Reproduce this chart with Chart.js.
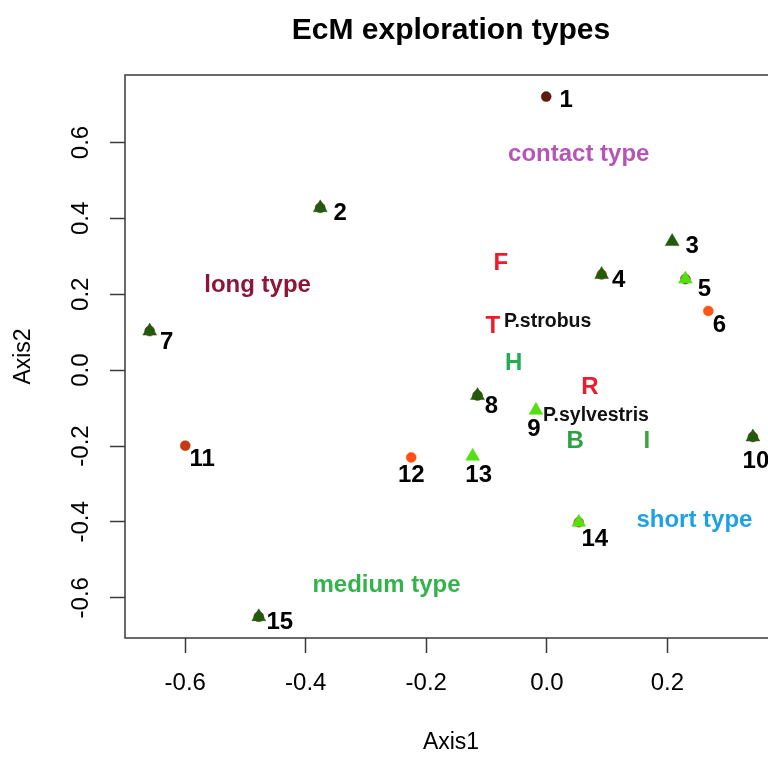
<!DOCTYPE html>
<html>
<head>
<meta charset="utf-8">
<title>EcM exploration types</title>
<script src="https://cdn.jsdelivr.net/npm/chart.js@4.4.1/dist/chart.umd.min.js"></script>
<style>
  html, body { margin: 0; padding: 0; background: #ffffff; overflow: hidden; }
  #wrap { width: 768px; height: 757px; overflow: hidden; }
  canvas { display: block; }
</style>
</head>
<body>
<div id="wrap"><canvas id="ord" width="800" height="757"></canvas></div>
<script>
// Site scores on the first two ordination axes
const siteIds = ['1', '2', '3', '4', '5', '6', '7', '8', '9', '10', '11', '12', '13', '14', '15'];
const axis1 = [-0.001, -0.376, 0.208, 0.091, 0.230, 0.268, -0.659, -0.115, -0.018, 0.342, -0.600, -0.225, -0.123, 0.053, -0.478];
const axis2 = [0.721, 0.428, 0.339, 0.252, 0.240, 0.156, 0.103, -0.067, -0.106, -0.176, -0.199, -0.230, -0.227, -0.401, -0.650];

// Marker fills per site (null = no marker of that kind)
const circleFill = ['#5c1c0c', '#7a2a10', null, '#d8431a', '#8a3a14', '#ff5517', '#7a2a10', '#7a2a10', null, '#7a2a10', '#c53a10', '#ff5012', null, '#d24a1c', '#7a2a10'];
const triangleFill = [null, '#1f5c0c', '#1f5c0c', '#1f5c0c', '#52e011', null, '#1f5c0c', '#1f5c0c', '#52e011', '#1f5c0c', null, null, '#52e011', '#52e011', '#1f5c0c'];

// Pixel nudges for the site number labels
const labelNudge = [[20, 4], [20, 6], [20, 5], [17, 6], [19, 10], [11, 14], [17, 11], [14, 11], [-2, 19], [3, 24], [17, 14], [0, 18], [6, 19], [16, 17], [21, 6]];

// Exploration type centroids
const typeNames = ['contact type', 'long type', 'medium type', 'short type'];
const typeX = [0.053, -0.480, -0.266, 0.245];
const typeY = [0.569, 0.223, -0.566, -0.397];
const typeColors = ['#b555b5', '#8e1538', '#34b24c', '#1ea1e4'];

// Soil / site factor codes
const codeNames = ['F', 'T', 'H', 'R', 'B', 'I'];
const codeX = [-0.0765, -0.0897, -0.055, 0.0717, 0.0469, 0.166];
const codeY = [0.281, 0.115, 0.017, -0.046, -0.189, -0.189];
const codeColors = ['#ec1c2c', '#ec1c2c', '#22ad55', '#ec1c2c', '#2ea043', '#3aa33a'];

// Host tree centroids
const hostNames = ['P.strobus', 'P.sylvestris'];
const hostX = [0.0013, 0.0816];
const hostY = [0.128, -0.120];

// Axis ticks
const xTicks = [-0.6, -0.4, -0.2, 0.0, 0.2];
const yTicks = [-0.6, -0.4, -0.2, 0.0, 0.2, 0.4, 0.6];

const FONT = "'Liberation Sans', Arial, Helvetica, sans-serif";
const INK = '#3a3a3a';

function pointsWhere(colors) {
  const pts = [], cols = [];
  siteIds.forEach((id, i) => {
    if (colors[i]) { pts.push({ x: axis1[i], y: axis2[i] }); cols.push(colors[i]); }
  });
  return { pts, cols };
}
const circ = pointsWhere(circleFill);
const tri = pointsWhere(triangleFill);

const frameBox = {
  id: 'frameBox',
  afterDatasetsDraw(chart) {
    const { ctx, chartArea: a } = chart;
    ctx.save();
    ctx.strokeStyle = INK;
    ctx.lineWidth = 1.5;
    ctx.strokeRect(a.left, a.top, a.right - a.left, a.bottom - a.top);
    ctx.restore();
  }
};

const textLayer = {
  id: 'textLayer',
  afterDatasetsDraw(chart) {
    const { ctx } = chart;
    const xs = chart.scales.x, ys = chart.scales.y;
    ctx.save();
    ctx.textAlign = 'center';
    ctx.textBaseline = 'middle';

    ctx.font = 'bold 24px ' + FONT;
    ctx.fillStyle = '#000000';
    siteIds.forEach((id, i) => {
      const px = xs.getPixelForValue(axis1[i]) + labelNudge[i][0];
      const py = ys.getPixelForValue(axis2[i]) + labelNudge[i][1];
      ctx.fillText(id, px, py);
    });

    typeNames.forEach((t, i) => {
      ctx.fillStyle = typeColors[i];
      ctx.fillText(t, xs.getPixelForValue(typeX[i]), ys.getPixelForValue(typeY[i]));
    });

    codeNames.forEach((t, i) => {
      ctx.fillStyle = codeColors[i];
      ctx.fillText(t, xs.getPixelForValue(codeX[i]), ys.getPixelForValue(codeY[i]));
    });

    ctx.font = 'bold 19.5px ' + FONT;
    ctx.fillStyle = '#111111';
    hostNames.forEach((t, i) => {
      ctx.fillText(t, xs.getPixelForValue(hostX[i]), ys.getPixelForValue(hostY[i]));
    });
    ctx.restore();
  }
};

new Chart(document.getElementById('ord'), {
  type: 'scatter',
  data: {
    datasets: [
      {
        label: 'triangles',
        data: tri.pts,
        pointStyle: 'triangle',
        pointRadius: 8,
        pointBackgroundColor: tri.cols,
        pointBorderColor: tri.cols,
        pointBorderWidth: 0.5,
        order: 1
      },
      {
        label: 'circles',
        data: circ.pts,
        pointStyle: 'circle',
        pointRadius: 5,
        pointBackgroundColor: circ.cols,
        pointBorderColor: circ.cols,
        pointBorderWidth: 0.5,
        order: 2
      }
    ]
  },
  options: {
    responsive: false,
    animation: false,
    events: [],
    layout: { padding: { left: 0, right: 23, top: 0, bottom: 0 } },
    plugins: {
      legend: { display: false },
      tooltip: { enabled: false },
      title: {
        display: true,
        text: 'EcM exploration types',
        fullSize: false,
        color: '#000000',
        font: { family: FONT, size: 30, weight: 'bold' },
        padding: { top: 13, bottom: 26 }
      }
    },
    scales: {
      x: {
        type: 'linear',
        min: -0.70,
        max: 0.382,
        afterFit(scale) { scale.height = 119; },
        afterBuildTicks(scale) { scale.ticks = xTicks.map(v => ({ value: v })); },
        border: { display: false },
        grid: { drawOnChartArea: false, drawTicks: true, tickLength: 15, tickColor: INK, tickWidth: 1.5 },
        ticks: {
          color: '#000000',
          font: { family: FONT, size: 24 },
          padding: 16,
          maxRotation: 0,
          autoSkip: false,
          callback: v => v.toFixed(1)
        },
        title: {
          display: true,
          text: 'Axis1',
          color: '#000000',
          font: { family: FONT, size: 23 },
          padding: { top: 0, bottom: 1 }
        }
      },
      y: {
        type: 'linear',
        min: -0.706,
        max: 0.778,
        afterFit(scale) { scale.width = 125; },
        afterBuildTicks(scale) { scale.ticks = yTicks.map(v => ({ value: v })); },
        border: { display: false },
        grid: { drawOnChartArea: false, drawTicks: true, tickLength: 15, tickColor: INK, tickWidth: 1.5 },
        ticks: {
          color: '#000000',
          font: { family: FONT, size: 24 },
          padding: 8,
          minRotation: 90,
          maxRotation: 90,
          crossAlign: 'center',
          autoSkip: false,
          callback: v => v.toFixed(1)
        },
        title: {
          display: true,
          text: 'Axis2',
          color: '#000000',
          font: { family: FONT, size: 23 },
          padding: { top: 10, bottom: 0 }
        }
      }
    }
  },
  plugins: [frameBox, textLayer]
});
</script>
</body>
</html>
